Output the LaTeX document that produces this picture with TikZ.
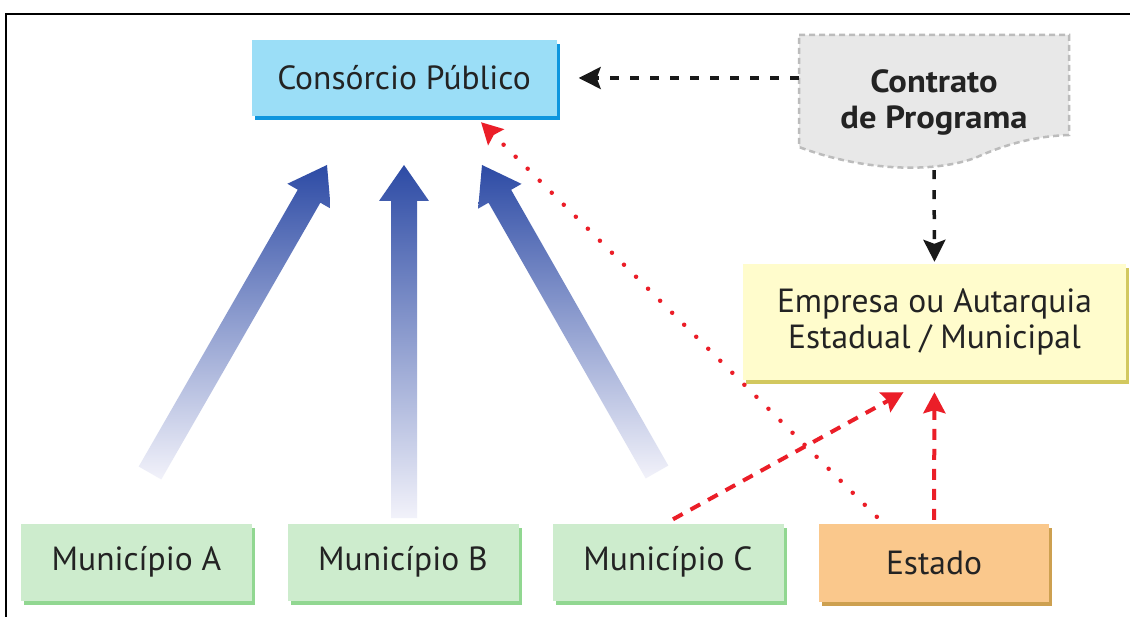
\documentclass[tikz,border=0pt]{standalone}
\usepackage{fontspec}
\setmainfont{PT Sans}
\newfontfamily\contrfont{PT Sans}[FakeStretch=1.08]
\usetikzlibrary{calc,arrows.meta}
\definecolor{txt}{RGB}{35,35,35}
\definecolor{consfill}{RGB}{155,222,247}
\definecolor{conssh}{RGB}{15,150,222}
\definecolor{empfill}{RGB}{255,252,204}
\definecolor{empsh}{RGB}{210,200,95}
\definecolor{estfill}{RGB}{250,200,140}
\definecolor{estsh}{RGB}{205,160,80}
\definecolor{munfill}{RGB}{205,236,205}
\definecolor{munsh}{RGB}{145,215,145}
\definecolor{docfill}{RGB}{232,232,232}
\definecolor{docline}{RGB}{188,188,188}
\definecolor{redc}{RGB}{235,30,40}
\definecolor{bA}{RGB}{45,75,165}
\definecolor{bB}{RGB}{130,135,200}
\definecolor{bC}{RGB}{242,242,250}
\newcommand\fatarrow[3]{%
  \coordinate (#3b) at ($(#2)!36pt!(#1)$);
  \shade[top color=bA, middle color=bB, bottom color=bC]
    ($(#1)!13pt!90:(#2)$) -- ($(#3b)!13pt!90:(#2)$) -- ($(#3b)!25pt!90:(#2)$) -- (#2)
    -- ($(#3b)!25pt!-90:(#2)$) -- ($(#3b)!13pt!-90:(#2)$) -- ($(#1)!13pt!-90:(#2)$) -- cycle;
}
\begin{document}
\begin{tikzpicture}[x=1pt,y=-1pt,
  box/.style={rectangle, inner sep=0pt, text=txt, align=center,
    font=\fontsize{33.5}{36}\selectfont},
  sh/.style={preaction={fill=#1, transform canvas={shift={(3pt,-4pt)}}}},
  blkarrow/.style={draw=black!90, line width=3.5pt, dash pattern=on 9pt off 11pt,
    -{Stealth[length=22pt,width=22pt,inset=4pt]}},
  reddash/.style={draw=redc, line width=4pt, dash pattern=on 11pt off 9pt,
    -{Stealth[length=21pt,width=22pt,inset=3pt]}},
  reddot/.style={draw=redc, line width=4.5pt, line cap=round, dash pattern=on 0pt off 17pt,
    -{Stealth[length=21pt,width=22pt,inset=3pt]}}
]
\useasboundingbox (0,0) rectangle (1130,617);
\fill[white] (0,0) rectangle (1130,617);
\draw[line width=2pt] (6,617) -- (6,14) -- (1130,14);

% document shape
\path[fill=docfill, draw=docline, line width=2.5pt, dash pattern=on 6pt off 4pt]
  (799,35) -- (1069,35) -- (1069,135)
  .. controls (1040,136) and (1010,142) .. (975,158)
  .. controls (930,174) and (860,170) .. (799,147) -- cycle;

\node[box, fill=consfill, sh=conssh, minimum width=305pt, minimum height=76pt] (cons) at (404,78) {Consórcio Público};
\node[box, minimum width=270pt, minimum height=135pt, font=\contrfont\fontsize{32}{36}\selectfont\bfseries] (contr) at (934,102.5) {Contrato\\de Programa};
\node[box, fill=empfill, sh=empsh, minimum width=383pt, minimum height=116pt] (emp) at (934.5,322) {Empresa ou Autarquia\\Estadual / Municipal};
\node[box, fill=estfill, sh=estsh, minimum width=230pt, minimum height=78pt] (est) at (934,563) {Estado};
\node[box, fill=munfill, sh=munsh, minimum width=231pt, minimum height=77pt] (ma) at (136.5,562) {Município A};
\node[box, fill=munfill, sh=munsh, minimum width=231pt, minimum height=77pt] (mb) at (403,562) {Município B};
\node[box, fill=munfill, sh=munsh, minimum width=231pt, minimum height=77pt] (mc) at (668,562) {Município C};

% blue arrows
\coordinate (la) at (150,473);
\coordinate (lt) at (327,165);
\coordinate (ma2) at (404,518);
\coordinate (mt) at (404,165);
\coordinate (ra) at (657,472);
\coordinate (rt) at (482,165);
\fatarrow{la}{lt}{L}
\fatarrow{ma2}{mt}{M}
\fatarrow{ra}{rt}{R}

% black dashed
\draw[blkarrow, shorten >=22pt] (cons.east -| contr.west) -- (cons.east);
\draw[blkarrow, shorten >=2pt] (contr.south) -- (emp.north);

% red
\coordinate (c1) at ($(mc.north)+(5,-4)$);
\coordinate (e1) at ($(emp.south)+(-31,12)$);
\draw[reddash] (c1) -- (e1);
\draw[reddash, shorten <=4pt, shorten >=12pt] (est.north) -- (emp.south);
\coordinate (s2) at ($(est.north west)+(58,-7)$);
\coordinate (t2) at ($(cons.south)+(77,6)$);
\draw[reddot] (s2) -- (t2);
\end{tikzpicture}
\end{document}
